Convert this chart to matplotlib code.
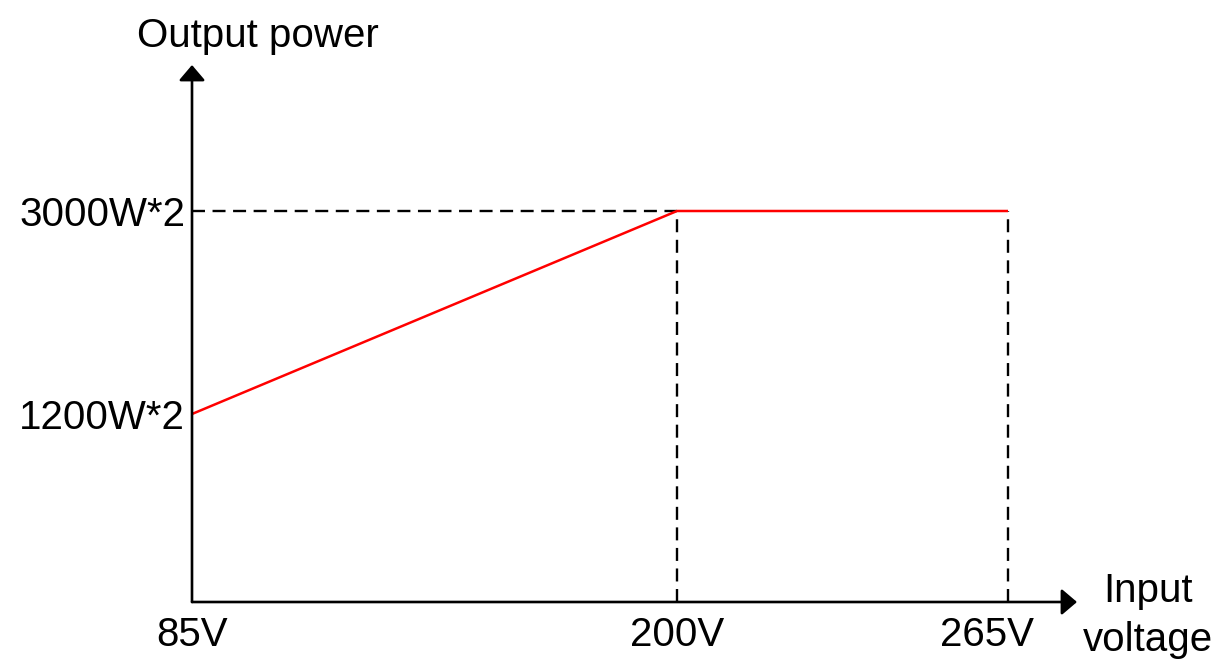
import numpy as np
import matplotlib
matplotlib.use("Agg")
import matplotlib.pyplot as plt
from matplotlib.transforms import ScaledTranslation

plt.rcParams['font.family'] = ['Liberation Sans', 'DejaVu Sans']

# ---- data ----
voltages = [85, 200, 265]
power = [1200, 3000, 3000]          # W (x2 modules)
x_tick_labels = ["85V", "200V", "265V"]
y_ticks = [1200, 3000]
y_tick_labels = ["1200W*2", "3000W*2"]
x_title = "Input\nvoltage"
y_title = "Output power"

# ---- schematic (non-linear) axis scales, as in the original drawing ----
xa_v = np.array([85.0, 200.0, 265.0]); xa_p = np.array([0.0, 485.0, 816.0])
ya_v = np.array([0.0, 1200.0, 3000.0]); ya_p = np.array([0.0, 188.0, 391.0])

def make_pw(av, ap):
    def fwd(v):
        v = np.asarray(v, float)
        s_last = (ap[-1] - ap[-2]) / (av[-1] - av[-2])
        s_first = (ap[1] - ap[0]) / (av[1] - av[0])
        out = np.interp(v, av, ap)
        out = np.where(v > av[-1], ap[-1] + (v - av[-1]) * s_last, out)
        out = np.where(v < av[0], ap[0] + (v - av[0]) * s_first, out)
        return out
    def inv(p):
        p = np.asarray(p, float)
        s_last = (av[-1] - av[-2]) / (ap[-1] - ap[-2])
        s_first = (av[1] - av[0]) / (ap[1] - ap[0])
        out = np.interp(p, ap, av)
        out = np.where(p > ap[-1], av[-1] + (p - ap[-1]) * s_last, out)
        out = np.where(p < ap[0], av[0] + (p - ap[0]) * s_first, out)
        return out
    return fwd, inv

xf, xi = make_pw(xa_v, xa_p)
yf, yi = make_pw(ya_v, ya_p)

W, H = 1221, 660
fig = plt.figure(figsize=(W / 100, H / 100), dpi=100)
x0, y0, x1, y1 = 192, 602, 1077, 65
ax = fig.add_axes([x0 / W, (H - y0) / H, (x1 - x0) / W, (y0 - y1) / H])
ax.set_xscale('function', functions=(xf, xi))
ax.set_yscale('function', functions=(yf, yi))
ax.set_xlim(85, float(xi(x1 - x0)))
ax.set_ylim(0, float(yi(y0 - y1)))

for s in ax.spines.values():
    s.set_visible(False)

dash = (0, (5.5, 3.2))
# guide lines
ax.plot([voltages[0], voltages[1]], [power[1], power[1]], color='black', lw=1.7, linestyle=dash, zorder=2)
for v in voltages[1:]:
    ax.plot([v, v], [0, power[1]], color='black', lw=1.7, linestyle=dash, zorder=2)

# curve
ax.plot(voltages, power, color='#ff0000', lw=1.8, zorder=3, solid_capstyle='butt')

# axes arrows
ap = dict(arrowstyle='-|>,head_length=0.47,head_width=0.4', lw=1.9, color='black',
          shrinkA=0, shrinkB=0, mutation_scale=20)
ax.annotate('', xy=(1, 0), xytext=(0, 0), xycoords='axes fraction', arrowprops=ap, zorder=4)
ax.annotate('', xy=(0, 1), xytext=(0, 0), xycoords='axes fraction', arrowprops=ap, zorder=4)

ax.set_xticks(voltages)
ax.set_xticklabels(x_tick_labels)
ax.set_yticks(y_ticks)
ax.set_yticklabels(y_tick_labels)
ax.minorticks_off()
ax.tick_params(axis='both', length=0, labelsize=29, colors='black')
ax.tick_params(axis='x', pad=10)
ax.tick_params(axis='y', pad=5)
lbls = ax.get_xticklabels()
lbls[2].set_transform(lbls[2].get_transform() + ScaledTranslation(-21 / 100, 0, fig.dpi_scale_trans))

fig.text(258 / W, (H - 47) / H, y_title, fontsize=29, ha='center', va='baseline')
lines = x_title.split("\n")
fig.text(1148 / W, (H - 602) / H, lines[0], fontsize=29, ha='center', va='baseline')
fig.text(1148 / W, (H - 651) / H, lines[1], fontsize=29, ha='center', va='baseline')

fig.savefig('out.png', dpi=100)
